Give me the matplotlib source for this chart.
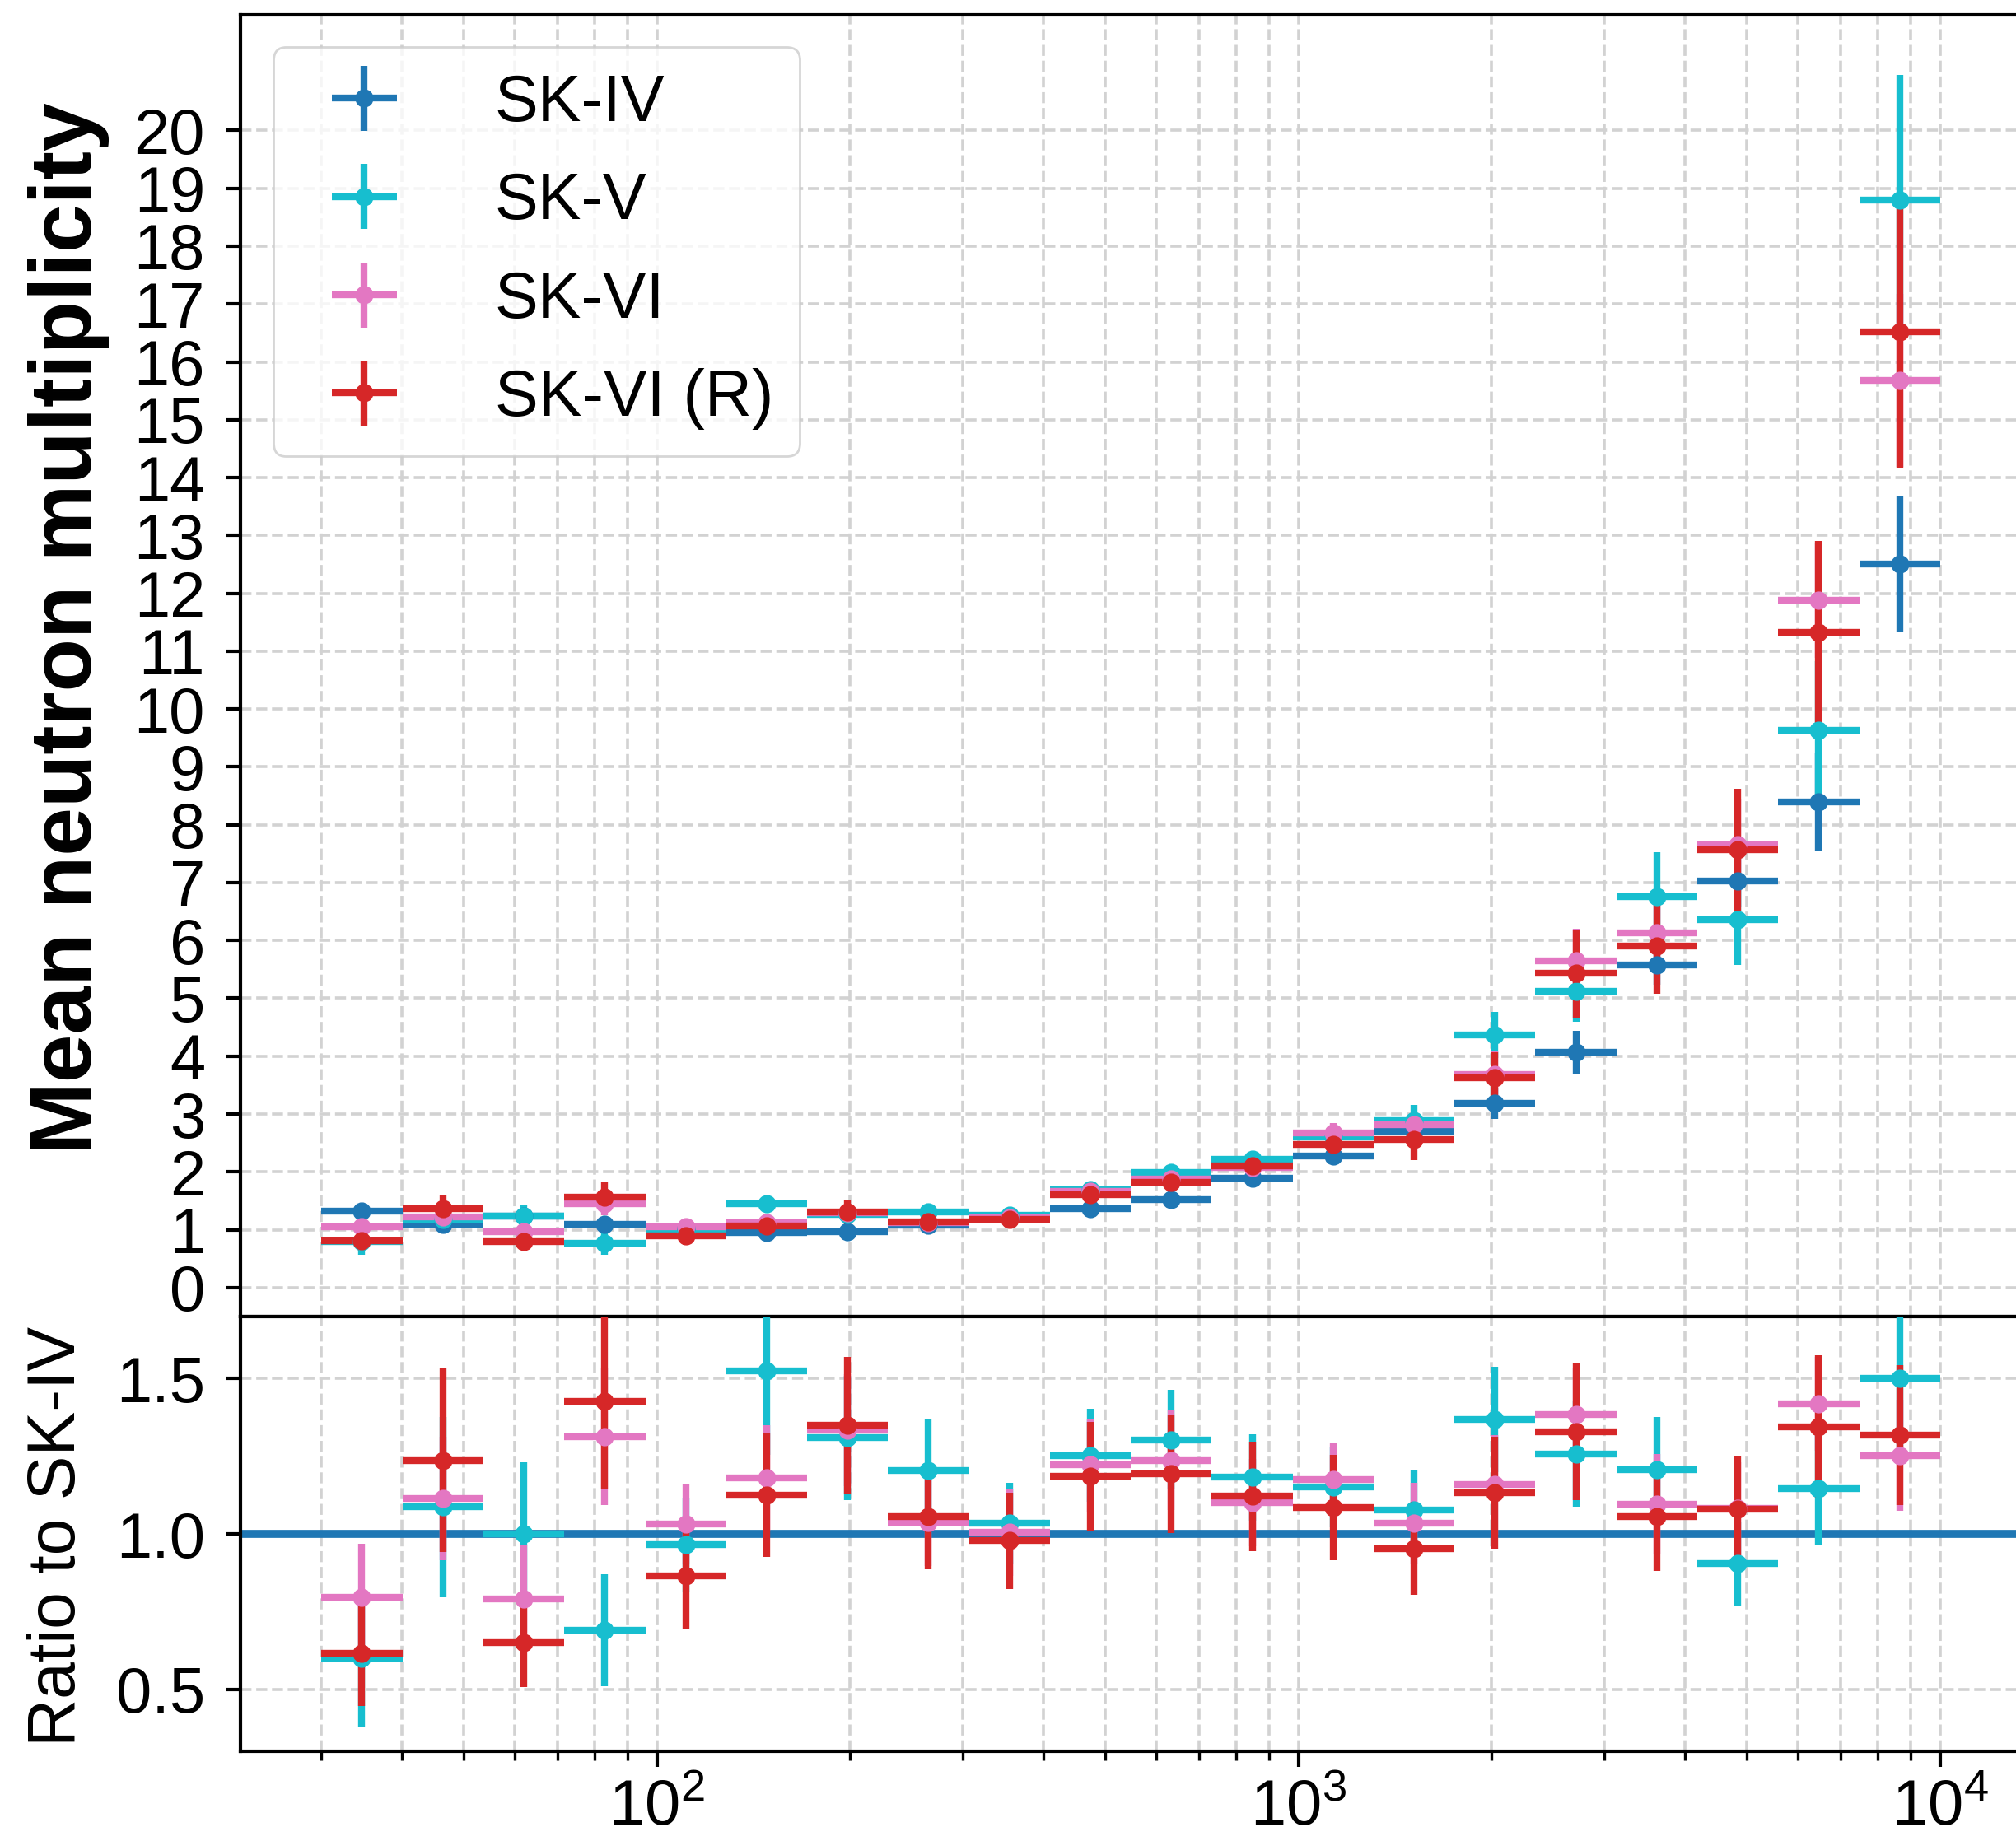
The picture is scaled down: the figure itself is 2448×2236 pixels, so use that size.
import matplotlib
matplotlib.use("Agg")
import matplotlib.pyplot as plt
import numpy as np

plt.rcParams['font.family'] = ['Liberation Sans', 'DejaVu Sans']
plt.rcParams['mathtext.fontset'] = 'custom'
plt.rcParams['mathtext.rm'] = 'Liberation Sans'
plt.rcParams['mathtext.it'] = 'Liberation Sans:italic'
plt.rcParams['mathtext.bf'] = 'Liberation Sans:bold'

# bin edges (log-spaced, 30 .. 10^4)
bin_edges = [30, 40.1, 53.6, 71.7, 95.9, 128.2, 171.4, 229.2, 306.4, 409.7, 547.7,
             732.3, 979.2, 1309, 1750, 2340, 3129, 4183, 5593, 7478, 10000]

labels = ["SK-IV", "SK-V", "SK-VI", "SK-VI (R)"]
colors = ["tab:blue", "tab:cyan", "tab:pink", "tab:red"]

# mean neutron multiplicity per bin
mult_sk4 = [1.32, 1.10, 1.23, 1.10, 1.02, 0.95, 0.96, 1.08, 1.20, 1.36,
            1.52, 1.89, 2.27, 2.70, 3.19, 4.07, 5.58, 7.03, 8.39, 12.50]
mult_sk5 = [0.79, 1.18, 1.23, 0.76, 0.98, 1.45, 1.27, 1.30, 1.25, 1.69,
            1.99, 2.22, 2.60, 2.89, 4.37, 5.12, 6.76, 6.36, 9.63, 18.79]
mult_sk6 = [1.05, 1.22, 0.97, 1.45, 1.05, 1.12, 1.29, 1.12, 1.21, 1.66,
            1.87, 2.07, 2.67, 2.81, 3.68, 5.65, 6.13, 7.65, 11.88, 15.68]
mult_sk6r = [0.81, 1.36, 0.80, 1.57, 0.89, 1.07, 1.30, 1.14, 1.18, 1.61,
             1.82, 2.10, 2.47, 2.56, 3.62, 5.43, 5.90, 7.57, 11.32, 16.52]

err_sk4 = [0.08, 0.08, 0.08, 0.08, 0.06, 0.06, 0.06, 0.06, 0.07, 0.08,
           0.09, 0.10, 0.12, 0.15, 0.27, 0.37, 0.35, 0.45, 0.85, 1.18]
err_sk5 = [0.23, 0.25, 0.20, 0.20, 0.15, 0.12, 0.10, 0.10, 0.10, 0.12,
           0.12, 0.12, 0.15, 0.26, 0.40, 0.52, 0.76, 0.78, 1.20, 2.17]
err_sk6 = [0.15, 0.20, 0.15, 0.20, 0.12, 0.15, 0.15, 0.12, 0.12, 0.15,
           0.15, 0.15, 0.18, 0.20, 0.40, 0.55, 0.55, 0.80, 1.00, 1.50]
err_sk6r = [0.18, 0.25, 0.15, 0.25, 0.15, 0.18, 0.20, 0.15, 0.15, 0.18,
            0.20, 0.20, 0.20, 0.35, 0.45, 0.76, 0.82, 1.05, 1.59, 2.36]

# ratio to SK-IV
ratio_sk5 = [0.60, 1.087, 1.00, 0.69, 0.965, 1.525, 1.31, 1.205, 1.035, 1.253,
             1.303, 1.182, 1.152, 1.078, 1.369, 1.258, 1.207, 0.904, 1.146, 1.50]
ratio_sk6 = [0.797, 1.114, 0.792, 1.313, 1.032, 1.18, 1.335, 1.036, 1.005, 1.222,
             1.237, 1.10, 1.174, 1.035, 1.158, 1.384, 1.096, 1.082, 1.419, 1.253]
ratio_sk6r = [0.617, 1.237, 0.651, 1.427, 0.865, 1.125, 1.351, 1.056, 0.978, 1.186,
              1.194, 1.121, 1.084, 0.953, 1.133, 1.33, 1.056, 1.079, 1.345, 1.318]

rerr_sk5 = [0.22, 0.29, 0.23, 0.18, 0.15, 0.27, 0.20, 0.165, 0.13, 0.15,
            0.16, 0.14, 0.13, 0.13, 0.17, 0.17, 0.17, 0.135, 0.18, 0.22]
rerr_sk6 = [0.17, 0.20, 0.17, 0.22, 0.13, 0.17, 0.18, 0.14, 0.14, 0.15,
            0.16, 0.14, 0.12, 0.13, 0.16, 0.15, 0.16, 0.15, 0.15, 0.18]
rerr_sk6r = [0.17, 0.295, 0.145, 0.285, 0.17, 0.20, 0.22, 0.17, 0.155, 0.175,
             0.19, 0.177, 0.17, 0.15, 0.18, 0.22, 0.175, 0.17, 0.23, 0.225]

edges = np.array(bin_edges)
xc = np.sqrt(edges[:-1] * edges[1:])
xerr = [xc - edges[:-1], edges[1:] - xc]

fig = plt.figure(figsize=(12.24, 11.18), dpi=200)
ax1 = fig.add_axes([0.1193, 0.2849, 0.8832, 0.7071])
ax2 = fig.add_axes([0.1193, 0.0487, 0.8832, 0.2362], sharex=ax1)

ekw = dict(fmt='o', ms=7, elinewidth=3, capsize=0)
for y, e, c, lab in zip([mult_sk4, mult_sk5, mult_sk6, mult_sk6r],
                        [err_sk4, err_sk5, err_sk6, err_sk6r], colors, labels):
    ax1.errorbar(xc, y, xerr=xerr, yerr=e, color=c, label=lab, **ekw)

ax2.axhline(1.0, color="tab:blue", lw=3.5, zorder=1)
for y, e, c in zip([ratio_sk5, ratio_sk6, ratio_sk6r],
                   [rerr_sk5, rerr_sk6, rerr_sk6r], colors[1:]):
    ax2.errorbar(xc, y, xerr=xerr, yerr=e, color=c, zorder=3, **ekw)

ax1.set_xscale('log')
ax1.set_ylim(-0.5, 22)
ax1.set_yticks(range(0, 21))
ax2.set_ylim(0.30, 1.70)
ax2.set_yticks([0.5, 1.0, 1.5])
ax2.set_yticklabels(["0.5", "1.0", "1.5"])

gkw = dict(ls='--', color='#d2d2d2', lw=1.3)
for ax in (ax1, ax2):
    ax.grid(True, which='both', axis='x', **gkw)
    ax.grid(True, which='major', axis='y', **gkw)
    ax.set_axisbelow(True)
    for s in ax.spines.values():
        s.set_linewidth(1.5)
    ax.tick_params(axis='y', which='major', direction='out', length=6.5, width=1.5,
                   labelsize=28, pad=9)
    ax.tick_params(axis='x', which='major', direction='out', length=7, width=1.5,
                   labelsize=28, pad=5)
    ax.tick_params(axis='x', which='minor', direction='out', length=4, width=1.2)

ax1.tick_params(axis='x', which='both', bottom=False, labelbottom=False)

ax1.legend(loc='upper left', fontsize=28.5, labelspacing=0.56, handletextpad=1.0,
           framealpha=0.8)

fig.text(0.034, 0.6585, "Mean neutron multiplicity", rotation=90, ha='center',
         va='center', fontsize=38, fontweight='bold')
fig.text(0.0287, 0.1655, "Ratio to SK-IV", rotation=90, ha='center',
         va='center', fontsize=29)

fig.savefig("out.png", dpi=200)
